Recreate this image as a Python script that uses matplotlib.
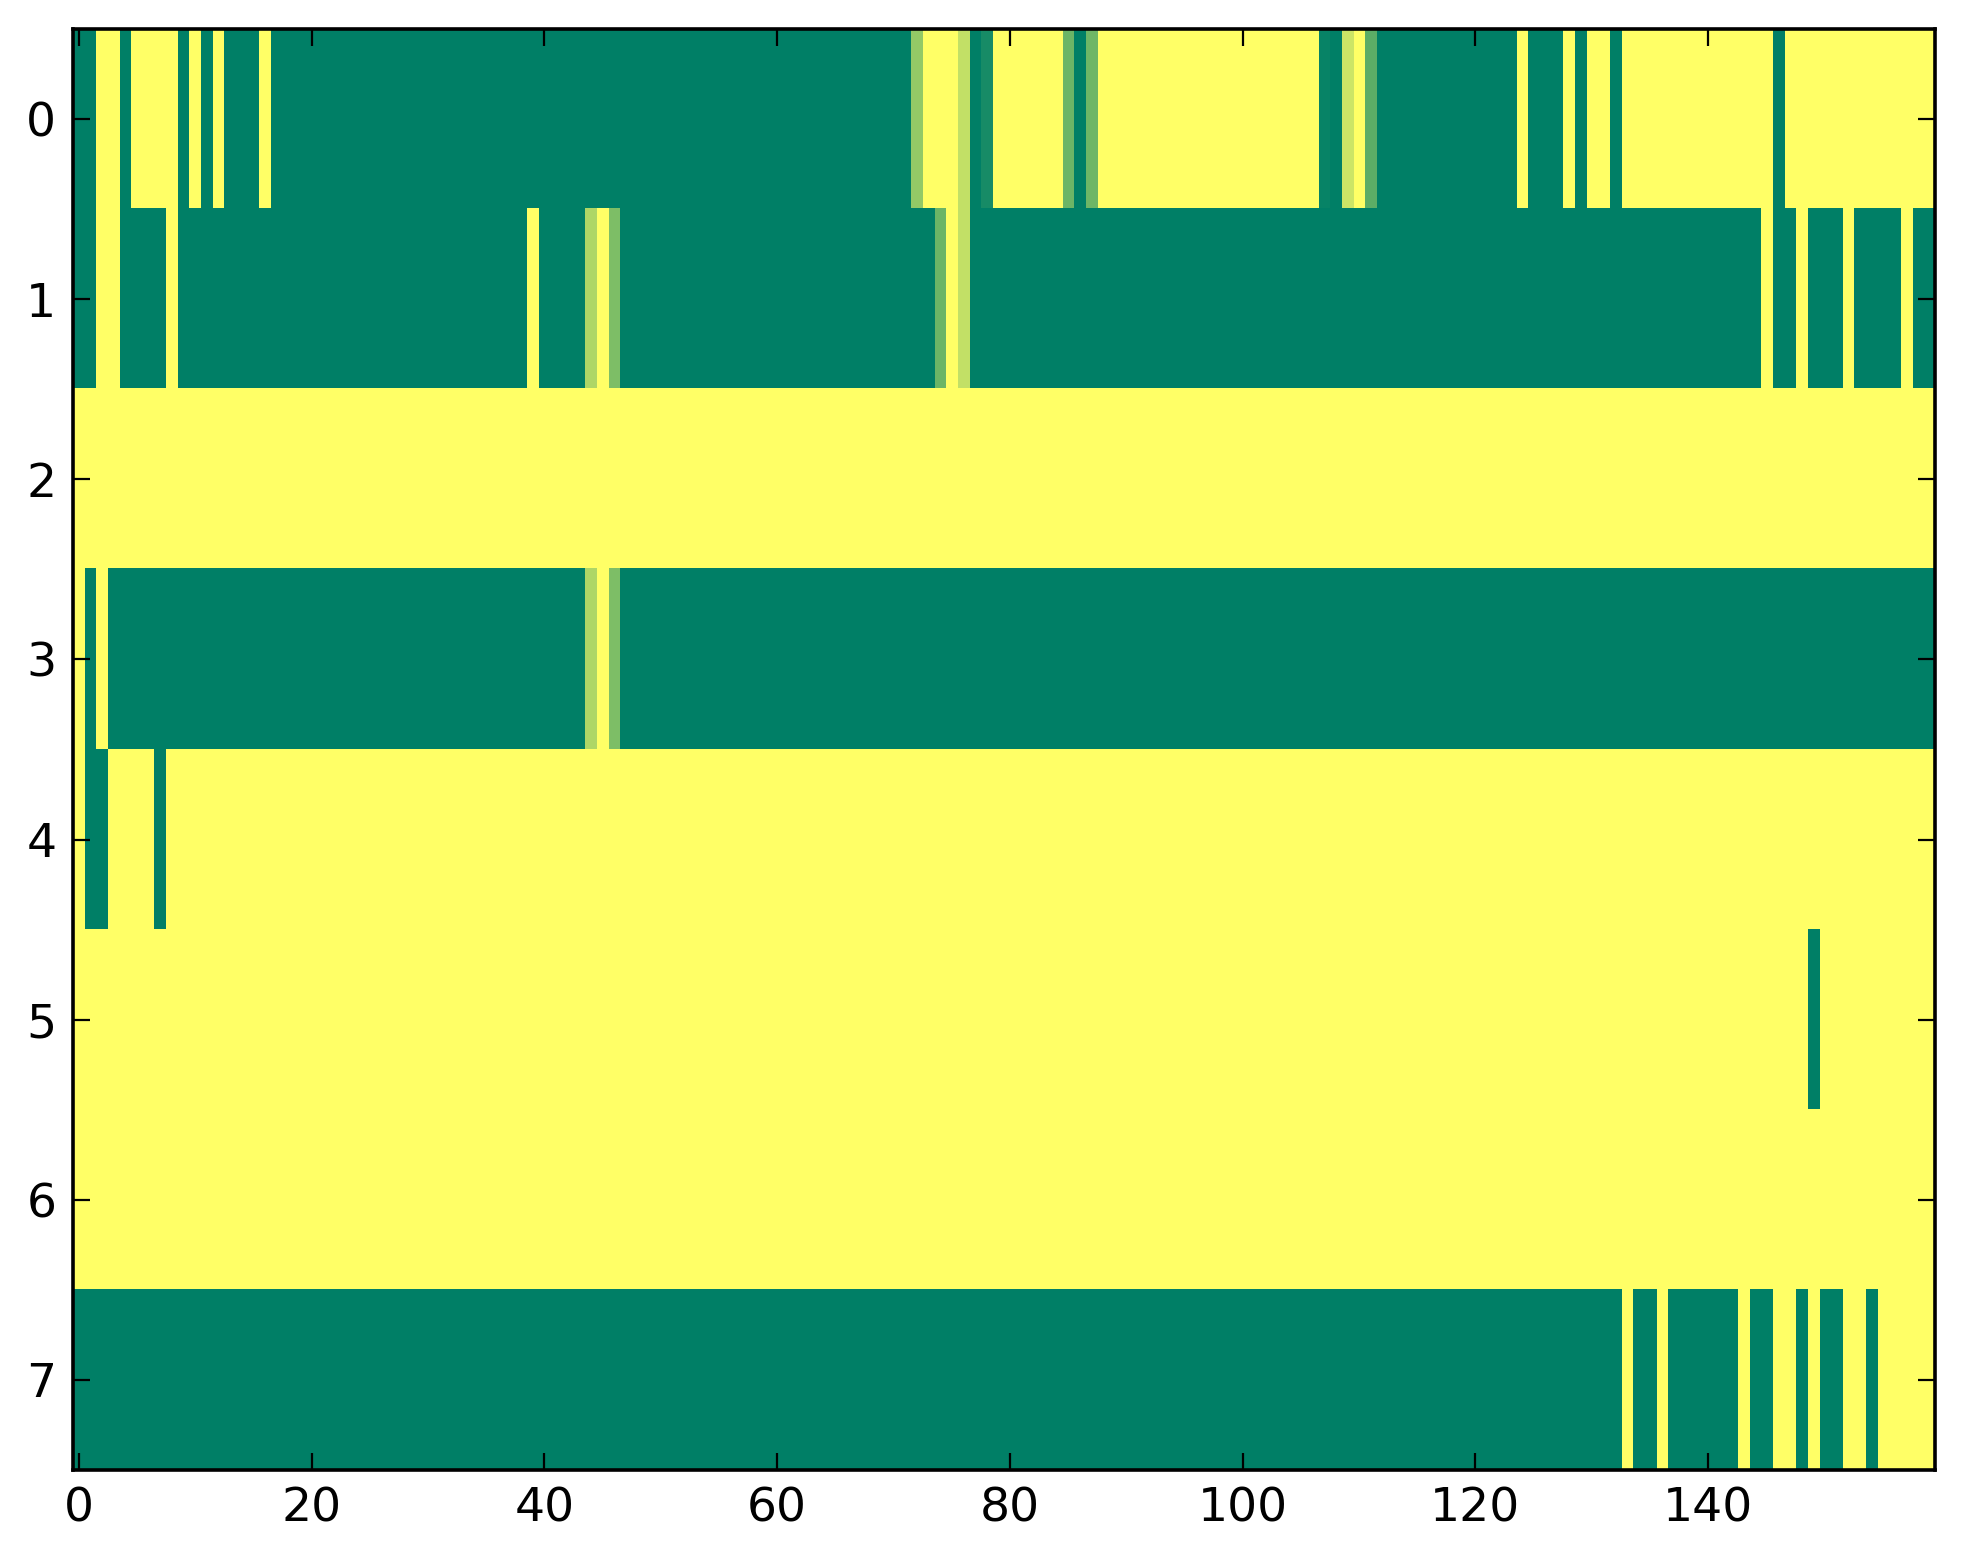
import numpy as np
import matplotlib
matplotlib.use("Agg")
import matplotlib.pyplot as plt

# each row as (run length, value) pairs, 160 columns per row
row0 = [(2, 0), (2, 1), (1, 0), (4, 1), (1, 0), (1, 1), (1, 0), (1, 1), (3, 0), (1, 1),
        (55, 0), (1, 0.58), (3, 1), (1, 0.76), (1, 0), (1, 0.09), (6, 1), (1, 0.42),
        (1, 0), (1, 0.43), (19, 1), (1, 0.03), (1, 0), (1, 0.80), (1, 1), (1, 0.36),
        (12, 0), (1, 1), (3, 0), (1, 1), (1, 0), (2, 1), (1, 0), (13, 1), (1, 0), (13, 1)]
row1 = [(2, 0), (2, 1), (4, 0), (1, 1), (30, 0), (1, 1), (4, 0), (1, 0.68), (1, 1),
        (1, 0.49), (27, 0), (1, 0.42), (1, 1), (1, 0.76), (68, 0), (1, 1), (2, 0), (1, 1),
        (3, 0), (1, 1), (4, 0), (1, 1), (2, 0)]
row2 = [(160, 1)]
row3 = [(1, 1), (1, 0), (1, 1), (41, 0), (1, 0.68), (1, 1), (1, 0.49), (113, 0)]
row4 = [(1, 1), (2, 0), (4, 1), (1, 0), (152, 1)]
row5 = [(149, 1), (1, 0), (10, 1)]
row6 = [(160, 1)]
row7 = [(133, 0), (1, 1), (2, 0), (1, 1), (6, 0), (1, 1), (2, 0), (2, 1), (1, 0), (1, 1),
        (2, 0), (2, 1), (1, 0), (5, 1)]

rows = [row0, row1, row2, row3, row4, row5, row6, row7]


def expand(runs):
    out = []
    for n, v in runs:
        out += [v] * n
    return out


def main():
    data = np.array([expand(r) for r in rows])

    plt.rcParams['font.family'] = 'DejaVu Sans'
    fig = plt.figure(figsize=(9.815, 7.82), dpi=200)
    ax = fig.add_axes([0.0372, 0.0601, 0.9486, 0.9214])
    ax.imshow(data, cmap='summer', vmin=0, vmax=1, interpolation='nearest', aspect='auto')

    ax.set_xticks(range(0, 160, 20))
    ax.set_yticks(range(8))
    ax.tick_params(direction='in', top=True, right=True, length=6, width=0.8,
                   labelsize=17, pad=6)
    for s in ax.spines.values():
        s.set_linewidth(1.3)

    fig.savefig('out.png', dpi=200)


if __name__ == "__main__":
    main()
